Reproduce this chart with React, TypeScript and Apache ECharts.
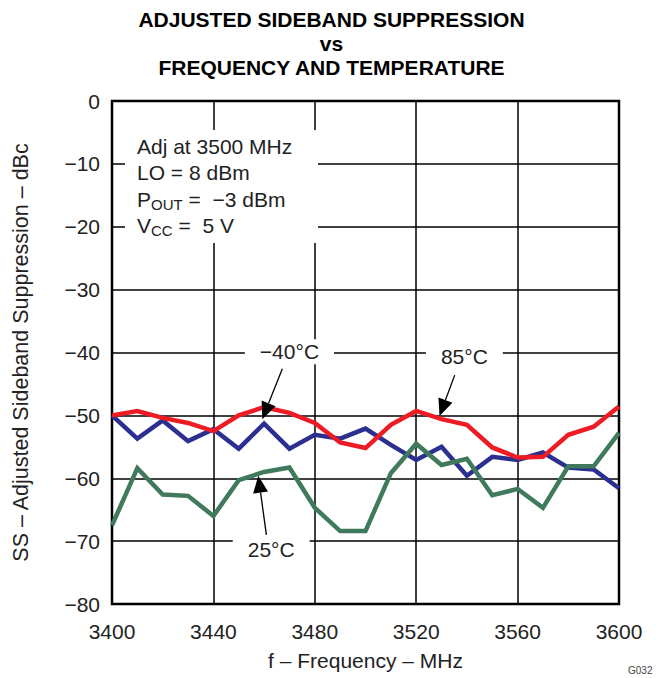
import React, { useEffect, useRef } from "react";
import * as echarts from "echarts";

const freqs = [3400, 3410, 3420, 3430, 3440, 3450, 3460, 3470, 3480, 3490, 3500, 3510, 3520, 3530, 3540, 3550, 3560, 3570, 3580, 3590, 3600];
const ssMinus40 = [-50.0, -53.7, -50.8, -54.1, -52.2, -55.3, -51.3, -55.3, -53.1, -53.7, -52.1, -54.7, -57.1, -55.0, -59.6, -56.6, -57.1, -55.9, -58.3, -58.6, -61.6];
const ss85 = [-50.0, -49.3, -50.4, -51.2, -52.5, -50.0, -48.7, -49.6, -51.2, -54.3, -55.2, -51.5, -49.3, -50.6, -51.5, -55.1, -56.7, -56.6, -53.1, -51.8, -48.6];
const ss25 = [-67.5, -58.4, -62.6, -62.8, -66.0, -60.3, -59.0, -58.3, -64.7, -68.4, -68.4, -59.2, -54.5, -57.9, -56.9, -62.7, -61.7, -64.7, -58.1, -58.1, -52.8];

const xTicks = [3400, 3440, 3480, 3520, 3560, 3600];
const yTicks = [0, -10, -20, -30, -40, -50, -60, -70, -80];

// annotations in data coordinates: label position, arrow tail, arrow tip
const annotations = [
  { text: "\u221240\u00B0C", label: [3470, -39.9], tail: [3467.2, -42.6], tip: [3459.3, -50.6] },
  { text: "85\u00B0C", label: [3539, -40.7], tail: [3535.2, -43.6], tip: [3529.2, -50.1] },
  { text: "25\u00B0C", label: [3462.8, -71.4], tail: [3460.9, -69.0], tip: [3457.7, -59.6] },
];

const FONT = "'Liberation Sans', Arial, Helvetica, sans-serif";
const FS = 21;
const fmtMinus = (v: number) => String(v).replace("-", "\u2212");

export default function App() {
  const ref = useRef<HTMLDivElement>(null);
  useEffect(() => {
    if (!ref.current) return;
    const chart = echarts.init(ref.current, null, { renderer: "svg", width: 663, height: 678 });
    const lineSeries = (name: string, data: number[], color: string) => ({
      name,
      type: "line",
      data: freqs.map((f, i) => [f, data[i]]),
      symbol: "none",
      lineStyle: { color, width: 4.5, join: "miter" },
      itemStyle: { color },
      z: 3,
    });
    chart.setOption({
      animation: false,
      backgroundColor: "#ffffff",
      textStyle: { fontFamily: FONT },
      grid: {
        left: 112,
        top: 101,
        width: 507,
        height: 503,
        containLabel: false,
        outerBoundsMode: "none",
        show: true,
        borderColor: "#000",
        borderWidth: 2.5,
        backgroundColor: "transparent",
      },
      xAxis: {
        type: "value",
        min: 3400,
        max: 3600,
        interval: 40,
        name: "f \u2013 Frequency \u2013 MHz",
        nameLocation: "middle",
        nameGap: 46,
        nameTextStyle: { fontSize: FS, color: "#222", fontFamily: FONT },
        axisLine: { show: false },
        axisTick: { show: false },
        axisLabel: { fontSize: FS, color: "#222", margin: 17, fontFamily: FONT, formatter: (v: number) => (xTicks.includes(v) ? String(v) : "") },
        splitLine: { show: true, lineStyle: { color: "#000", width: 1.5 } },
      },
      yAxis: {
        type: "value",
        min: -80,
        max: 0,
        interval: 10,
        name: "SS \u2013 Adjusted Sideband Suppression \u2013 dBc",
        nameLocation: "middle",
        nameGap: 80,
        nameRotate: 90,
        nameTextStyle: { fontSize: 21.5, color: "#222", fontFamily: FONT },
        axisLine: { show: false },
        axisTick: { show: false },
        axisLabel: { fontSize: FS, color: "#222", margin: 12, fontFamily: FONT, formatter: (v: number) => (yTicks.includes(v) ? fmtMinus(v) : "") },
        splitLine: { show: true, lineStyle: { color: "#000", width: 1.5 } },
      },
      series: [
        lineSeries("-40°C", ssMinus40, "#2b2f8f"),
        lineSeries("25°C", ss25, "#3f7a5c"),
        lineSeries("85°C", ss85, "#ed1c24"),
      ],
    });

    const graphics: any[] = [
      {
        type: "text",
        left: "center",
        top: 7,
        style: {
          text: "ADJUSTED SIDEBAND SUPPRESSION\nvs\nFREQUENCY AND TEMPERATURE",
          font: `bold ${FS}px ${FONT}`,
          fill: "#000",
          textAlign: "center",
          lineHeight: 24,
        },
      },
      { type: "rect", shape: { x: 125, y: 130, width: 193, height: 113 }, style: { fill: "#fff" }, z: 5 },
      {
        type: "text",
        x: 137,
        y: 133,
        z: 6,
        style: {
          text: "Adj at 3500 MHz\nLO = 8 dBm\n{n|P}{s|OUT}{n| =  \u22123 dBm}\n{n|V}{s|CC}{n| =  5 V}",
          font: `${FS}px ${FONT}`,
          fill: "#222",
          lineHeight: 26.5,
          rich: {
            n: { fontSize: FS, fontFamily: FONT, fill: "#222", lineHeight: 26.5 },
            s: { fontSize: 15, fontFamily: FONT, fill: "#222", padding: [10, 0, 0, 0], lineHeight: 26.5 },
          },
        },
      },
      {
        type: "text",
        x: 628,
        y: 665,
        style: { text: "G032", font: `10px ${FONT}`, fill: "#444" },
      },
    ];

    annotations.forEach((a) => {
      const lp = chart.convertToPixel({ gridIndex: 0 }, a.label) as number[];
      const tl = chart.convertToPixel({ gridIndex: 0 }, a.tail) as number[];
      const tp = chart.convertToPixel({ gridIndex: 0 }, a.tip) as number[];
      const dx = tp[0] - tl[0];
      const dy = tp[1] - tl[1];
      const len = Math.hypot(dx, dy);
      const ux = dx / len;
      const uy = dy / len;
      const hl = 17;
      const hw = 7.5;
      const bx = tp[0] - ux * hl;
      const by = tp[1] - uy * hl;
      graphics.push({
        type: "text",
        x: lp[0],
        y: lp[1],
        z: 6,
        style: {
          text: a.text,
          font: `${FS}px ${FONT}`,
          fill: "#222",
          align: "center",
          verticalAlign: "middle",
          backgroundColor: "#fff",
          padding: [2, 15, 2, 15],
        },
      });
      graphics.push({
        type: "line",
        z: 6,
        shape: { x1: tl[0], y1: tl[1], x2: bx, y2: by },
        style: { stroke: "#000", lineWidth: 1.3 },
      });
      graphics.push({
        type: "polygon",
        z: 6,
        shape: {
          points: [
            [tp[0], tp[1]],
            [bx - uy * hw, by + ux * hw],
            [bx + uy * hw, by - ux * hw],
          ],
        },
        style: { fill: "#000" },
      });
    });

    chart.setOption({ graphic: graphics });
    return () => chart.dispose();
  }, []);
  return <div ref={ref} style={{ position: "absolute", left: 0, top: 0, width: 663, height: 678 }} />;
}
